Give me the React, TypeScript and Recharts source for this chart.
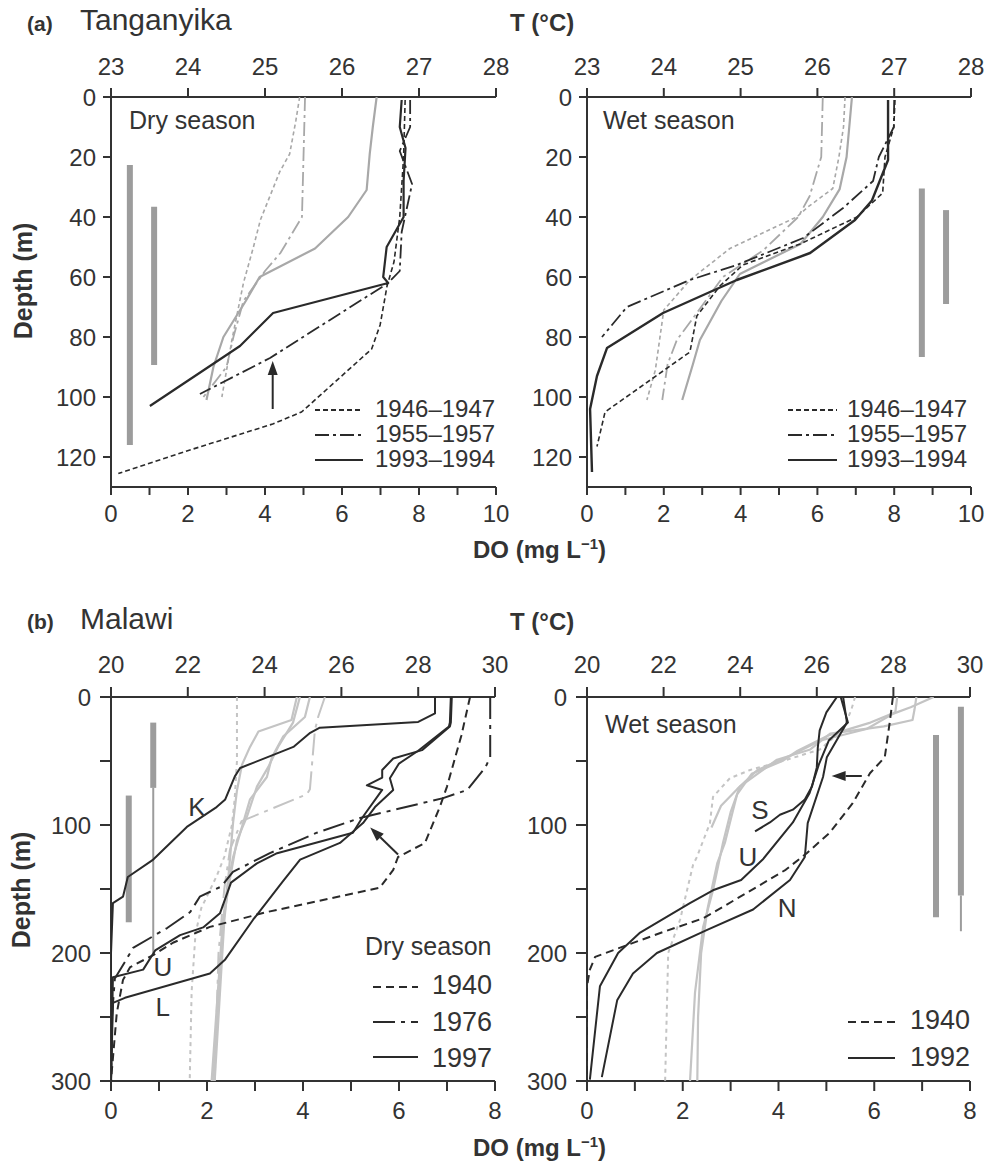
import React from 'react';
import { ScatterChart, Scatter, XAxis, YAxis } from 'recharts';

type P = [number, number]; // [value, depth]

// ---------- (a) Tanganyika, dry season ----------
const tanDryT1946: P[] = [[25.45, 0], [25.4, 8], [25.32, 19], [25.19, 25], [24.94, 41], [24.85, 50], [24.72, 62], [24.57, 81], [24.44, 100]];
const tanDryT1955: P[] = [[25.52, 0], [25.5, 20], [25.48, 40], [25.2, 52], [25.0, 58], [24.72, 68], [24.59, 80], [24.5, 90], [24.2, 100]];
const tanDryT1993: P[] = [[26.45, 0], [26.4, 10], [26.36, 19], [26.32, 31], [26.08, 40], [25.65, 50.5], [24.93, 60], [24.75, 68], [24.46, 80], [24.33, 90], [24.24, 101]];
const tanDryDO1946: P[] = [[7.64, 1], [7.6, 20], [7.5, 40], [7.35, 55], [7.17, 63], [6.99, 76], [6.77, 84], [4.95, 105], [4.2, 109], [1.97, 118], [0.19, 125.5]];
const tanDryDO1955: P[] = [[7.77, 1], [7.77, 10], [7.5, 18], [7.82, 29], [7.55, 45], [7.5, 58], [7.2, 62], [4.13, 87], [2.31, 99]];
const tanDryDO1993: P[] = [[7.55, 1], [7.5, 10], [7.65, 17], [7.6, 28], [7.6, 40], [7.16, 50], [7.07, 60], [7.2, 62], [4.21, 72], [3.35, 83], [1.01, 103]];
const tanDryBar1: P[] = [[0.49, 22.7], [0.49, 116]];
const tanDryBar2: P[] = [[1.12, 36.6], [1.12, 89.3]];
const tanDryArrow: P[] = [[4.2, 104], [4.2, 88]];

// ---------- (a) Tanganyika, wet season ----------
const tanWetT1946: P[] = [[26.36, 0], [26.34, 10], [26.28, 20], [26.2, 30.5], [25.88, 36.6], [25.73, 40], [24.86, 50.5], [24.34, 61], [24.0, 71], [23.89, 91], [23.78, 101]];
const tanWetT1955: P[] = [[26.07, 0], [26.05, 20], [25.9, 33], [25.75, 40], [25.3, 51], [24.77, 60], [24.43, 72], [24.17, 81], [24.05, 89], [23.98, 101]];
const tanWetT1993: P[] = [[26.45, 0], [26.38, 20], [26.29, 30.7], [26.07, 40], [25.78, 49], [24.99, 59], [24.75, 68], [24.47, 81], [24.38, 89], [24.24, 101]];
const tanWetDO1946: P[] = [[8.02, 1], [7.99, 10], [7.76, 20], [7.7, 32], [7.03, 40], [5.55, 49], [4.06, 56], [3.46, 63], [2.86, 73], [2.68, 85], [0.47, 105], [0.26, 116.5]];
const tanWetDO1955: P[] = [[8.0, 1], [7.99, 10], [7.6, 20], [7.45, 28], [6.67, 37], [5.63, 47], [3.9, 56], [2.68, 61], [1.64, 66.7], [1.04, 70], [0.39, 80]];
const tanWetDO1993: P[] = [[7.84, 1], [7.84, 21], [7.42, 34.5], [6.98, 41], [5.81, 52], [3.9, 61], [1.98, 72], [0.52, 83.7], [0.26, 93], [0.08, 104], [0.13, 125]];
const tanWetBar1: P[] = [[8.72, 30.5], [8.72, 86.7]];
const tanWetBar2: P[] = [[9.35, 37.7], [9.35, 69]];

// ---------- (b) Malawi, dry season ----------
const malDryT1940: P[] = [[23.28, 0], [23.28, 50], [23.22, 80], [23.15, 100], [22.95, 125], [22.75, 140], [22.35, 165], [22.2, 185], [22.1, 230], [22.05, 300]];
const malDryT1976: P[] = [[25.57, 0], [25.4, 15], [25.31, 26], [25.18, 72], [25.1, 76], [23.4, 97], [23.1, 119], [22.95, 150], [22.8, 200], [22.7, 300]];
const malDryT1997a: P[] = [[24.84, 0], [24.7, 18], [23.84, 27], [23.62, 39], [23.41, 53], [23.28, 73], [23.18, 98], [23.05, 143], [22.92, 174], [22.79, 239], [22.66, 300]];
const malDryT1997b: P[] = [[25.18, 0], [25.05, 15.6], [24.48, 31], [24.19, 47], [24.06, 62.5], [23.62, 80], [23.44, 98.5], [23.18, 125], [23.05, 145], [22.95, 175], [22.82, 240], [22.7, 300]];
const malDryT1997c: P[] = [[24.92, 0], [24.74, 20], [24.35, 39], [24.09, 55], [23.8, 70], [23.54, 93.5], [23.28, 112], [23.08, 145], [22.9, 180], [22.76, 240], [22.62, 300]];
const malDryDO1940: P[] = [[7.48, 0], [7.3, 30], [7.0, 70], [6.85, 86], [6.54, 114], [5.98, 125], [5.88, 135], [5.6, 149], [3.25, 168], [2.06, 179.6], [1.29, 192], [0.88, 201.6], [0.4, 211], [0.25, 221], [0.12, 247], [0.02, 291], [0, 300]];
const malDryDO1976: P[] = [[7.9, 0], [7.9, 47], [7.8, 55], [7.42, 72.6], [6.92, 79], [5.19, 94.5], [4.29, 106], [3.31, 122], [2.54, 136.6], [2.3, 148], [1.85, 156], [1.65, 168], [1.17, 180.5], [0.46, 196], [0.29, 207], [0.08, 220], [0.02, 250], [0, 300]];
const malDryDO1997K: P[] = [[6.75, 0], [6.75, 12.8], [6.4, 19.5], [4.35, 24], [4.15, 28], [3.8, 39], [3.46, 44], [2.69, 55.5], [2.58, 62], [2.38, 80], [2.2, 86], [1.58, 101.5], [0.88, 127], [0.35, 140.6], [0.25, 156], [0.04, 161], [0, 200], [0, 300]];
const malDryDO1997U: P[] = [[7.1, 0], [7.08, 20], [7.06, 23], [6.48, 41.5], [5.88, 48], [5.65, 57], [5.65, 63], [5.33, 69], [5.65, 72.6], [5.23, 94.5], [5.04, 106], [3.46, 122], [3.04, 130], [2.5, 145], [2.27, 169], [1.92, 180], [1.44, 186], [0.92, 198], [0.67, 213], [0.04, 219], [0, 300]];
const malDryDO1997L: P[] = [[7.08, 0], [7.06, 20], [7.04, 23], [6.4, 42], [6.0, 52], [5.81, 63.5], [5.88, 72.6], [5.5, 86], [5.25, 98.5], [4.77, 114], [3.94, 127], [3.58, 144], [3.25, 160], [2.96, 174], [2.38, 205], [2.06, 216], [0.29, 235], [0.04, 239], [0, 300]];
const malDryBar1: P[] = [[0.37, 77], [0.37, 176]];
const malDryBar2: P[] = [[0.88, 20], [0.88, 71]];
const malDryBar2Thin: P[] = [[0.88, 71], [0.88, 200]];
const malDryArrow: P[] = [[5.98, 123], [5.4, 102]];
const malDryLabels: { text: string; at: P }[] = [
  { text: 'K', at: [1.79, 86] },
  { text: 'U', at: [1.08, 211] },
  { text: 'L', at: [1.08, 242] },
];

// ---------- (b) Malawi, wet season ----------
const malWetT1940: P[] = [[27.0, 0], [26.9, 10], [26.7, 25], [26.08, 41], [25.22, 49], [24.26, 57], [23.73, 63.5], [23.29, 78], [23.21, 98.5], [22.87, 125], [22.77, 131], [22.43, 174], [22.12, 200], [22.04, 300]];
const malWetT1992a: P[] = [[29.05, 0], [28.45, 8], [28.0, 13], [27.3, 25], [26.1, 34], [25.3, 46], [24.45, 57], [23.92, 72], [23.5, 85], [23.25, 102]];
const malWetT1992b: P[] = [[28.6, 0], [28.55, 10], [28.5, 18], [27.75, 23], [26.35, 28.6], [25.83, 41], [24.96, 49], [23.99, 70], [23.75, 90], [23.55, 114], [23.29, 151], [23.03, 180], [22.82, 231], [22.69, 300]];
const malWetT1992c: P[] = [[28.1, 0], [28.05, 12], [27.4, 20], [26.3, 30], [25.5, 42], [25.1, 50], [24.3, 60], [23.92, 76], [23.8, 90], [23.6, 114], [23.4, 130], [23.15, 165], [22.98, 200], [22.9, 250], [22.88, 300]];
const malWetDO1940: P[] = [[6.39, 0], [6.33, 18], [6.22, 47], [5.91, 59.6], [5.55, 83], [5.07, 106], [4.59, 122], [4.15, 135], [3.34, 153], [2.42, 173], [1.59, 183.6], [0.75, 195], [0.17, 203], [0.06, 213], [0, 226], [0, 300]];
const malWetDO1992S: P[] = [[5.22, 0], [5.0, 12], [4.86, 26], [4.82, 40], [4.8, 55], [4.7, 70], [4.55, 80], [4.3, 88], [4.03, 92], [3.82, 98], [3.51, 105]];
const malWetDO1992U: P[] = [[5.3, 0], [5.45, 20], [5.05, 34], [4.85, 52], [4.65, 75], [4.3, 98], [3.67, 127], [3.22, 143], [2.63, 151], [2.15, 161], [1.11, 184], [0.65, 200], [0.27, 226], [0.06, 299]];
const malWetDO1992N: P[] = [[5.35, 0], [5.43, 20], [5.01, 47], [4.93, 62.5], [4.61, 98.5], [4.55, 125], [4.24, 143], [3.47, 166], [2.51, 182], [1.46, 200], [0.96, 216], [0.63, 237], [0.31, 297]];
const malWetBar1: P[] = [[7.29, 29.7], [7.29, 172]];
const malWetBar2: P[] = [[7.81, 7.6], [7.81, 155]];
const malWetBar2Thin: P[] = [[7.81, 155], [7.81, 183]];
const malWetArrow: P[] = [[5.74, 61.7], [5.11, 61.7]];
const malWetLabels: { text: string; at: P }[] = [
  { text: 'S', at: [3.61, 88] },
  { text: 'U', at: [3.36, 125] },
  { text: 'N', at: [4.18, 165] },
];

// ---------- axis ticks ----------
const tanDoTicks = [0, 1, 2, 3, 4, 5, 6, 7, 8, 9, 10];
const tanDoLabels = [0, 2, 4, 6, 8, 10];
const tanTTicks = [23, 24, 25, 26, 27, 28];
const tanDepthTicks = [0, 20, 40, 60, 80, 100, 120];
const malDoTicks = [0, 1, 2, 3, 4, 5, 6, 7, 8];
const malDoLabels = [0, 2, 4, 6, 8];
const malTTicks = [20, 22, 24, 26, 28, 30];
const malDepthTicks = [0, 50, 100, 150, 200, 250, 300];
const malDepthLabels = [0, 100, 200, 300];

// ---------- styles ----------
const FONT = '"Liberation Sans", Arial, Helvetica, sans-serif';
const INK = '#333333';
const DARK = '#2a2a2a';
const GRAY_A = '#a8a8a8';
const GRAY_B = '#c4c4c4';
const BAR = '#9c9c9c';
const TICK_FS = 24;

const toPts = (arr: P[]) => arr.map(([x, d]) => ({ x, d }));
const noShape = () => <g />;

type LineDef = { data: P[]; axis: 'do' | 't'; color: string; width: number; dash?: string };

const arrowLine = (color: string) => (p: any) => {
  const pts = p.points || [];
  if (pts.length < 2) return <g />;
  const a = pts[0];
  const b = pts[pts.length - 1];
  const ang = Math.atan2(b.y - a.y, b.x - a.x);
  const L = 14;
  const W = 5;
  const bx = b.x - L * Math.cos(ang);
  const by = b.y - L * Math.sin(ang);
  const px = -Math.sin(ang) * W;
  const py = Math.cos(ang) * W;
  return (
    <g>
      <line x1={a.x} y1={a.y} x2={bx} y2={by} stroke={color} strokeWidth={2} />
      <polygon points={`${b.x},${b.y} ${bx + px},${by + py} ${bx - px},${by - py}`} fill={color} />
    </g>
  );
};

const textShape = (label: string) => (p: any) => (
  <text x={p.cx} y={p.cy} textAnchor="middle" dominantBaseline="central" fontSize={26} fontFamily={FONT} fill={INK}>
    {label}
  </text>
);

const mkTick = (kind: 'bottom' | 'top' | 'left', labels: number[]) => (p: any) => {
  const v = p.payload && p.payload.value;
  if (!labels.includes(v)) return <g />;
  const dy = kind === 'bottom' ? '0.72em' : kind === 'top' ? '0' : '0.36em';
  const anchor = kind === 'left' ? 'end' : 'middle';
  return (
    <text x={p.x} y={p.y} dy={dy} textAnchor={anchor} fontSize={TICK_FS} fontFamily={FONT} fill={INK}>
      {String(v)}
    </text>
  );
};

type PanelProps = {
  left: number;
  top: number;
  w: number;
  h: number;
  doMax: number;
  doTicks: number[];
  doLabels: number[];
  tMin: number;
  tMax: number;
  tTicks: number[];
  dMax: number;
  dTicks: number[];
  dLabels: number[];
  lines: LineDef[];
  arrows: P[][];
  labels: { text: string; at: P }[];
  ts: { left: [number, number]; bottom: [number, number]; top: [number, number] };
};

function Panel(props: PanelProps) {
  const { left, top, w, h, doMax, doTicks, doLabels, tMin, tMax, tTicks, dMax, dTicks, dLabels, lines, arrows, labels, ts } = props;
  const YW = 70;
  const TH = 50;
  const BH = 50;
  const RM = 20;
  const axisStroke = { stroke: INK, strokeWidth: 2 };
  return (
    <div style={{ position: 'absolute', left: left - YW, top: top - TH }}>
      <ScatterChart width={YW + w + RM} height={TH + h + BH} margin={{ top: 0, right: RM, bottom: 0, left: 0 }}>
        <XAxis
          xAxisId="do"
          type="number"
          dataKey="x"
          orientation="bottom"
          height={BH}
          domain={[0, doMax]}
          ticks={doTicks}
          interval={0}
          allowDataOverflow
          tick={mkTick('bottom', doLabels)}
          tickLine={axisStroke}
          axisLine={axisStroke}
          tickSize={ts.bottom[0]}
          tickMargin={ts.bottom[1]}
        />
        <XAxis
          xAxisId="t"
          type="number"
          dataKey="x"
          orientation="top"
          height={TH}
          domain={[tMin, tMax]}
          ticks={tTicks}
          interval={0}
          allowDataOverflow
          tick={mkTick('top', tTicks)}
          tickLine={axisStroke}
          axisLine={axisStroke}
          tickSize={ts.top[0]}
          tickMargin={ts.top[1]}
        />
        <YAxis
          type="number"
          dataKey="d"
          reversed
          width={YW}
          domain={[0, dMax]}
          ticks={dTicks}
          interval={0}
          allowDataOverflow
          tick={mkTick('left', dLabels)}
          tickLine={axisStroke}
          axisLine={axisStroke}
          tickSize={ts.left[0]}
          tickMargin={ts.left[1]}
        />
        {lines.map((s, i) => (
          <Scatter
            key={`l${i}`}
            xAxisId={s.axis}
            data={toPts(s.data)}
            fill="none"
            line={{ stroke: s.color, strokeWidth: s.width, strokeDasharray: s.dash, strokeLinejoin: 'round' }}
            lineType="joint"
            shape={noShape}
            isAnimationActive={false}
          />
        ))}
        {arrows.map((a, i) => (
          <Scatter
            key={`a${i}`}
            xAxisId="do"
            data={toPts(a)}
            fill="none"
            line={arrowLine(DARK)}
            lineType="joint"
            shape={noShape}
            isAnimationActive={false}
          />
        ))}
        {labels.map((l, i) => (
          <Scatter
            key={`t${i}`}
            xAxisId="do"
            data={toPts([l.at])}
            fill="none"
            shape={textShape(l.text)}
            isAnimationActive={false}
          />
        ))}
      </ScatterChart>
    </div>
  );
}

function Txt({ x, y, size, bold, anchor, children }: { x: number; y: number; size: number; bold?: boolean; anchor?: 'start' | 'middle' | 'end'; children: React.ReactNode }) {
  const shift = anchor === 'middle' ? '-50%' : anchor === 'end' ? '-100%' : '0';
  return (
    <div
      style={{
        position: 'absolute',
        left: x,
        top: y - 0.846 * size,
        fontSize: size,
        lineHeight: `${size}px`,
        fontWeight: bold ? 700 : 400,
        fontFamily: FONT,
        color: INK,
        whiteSpace: 'nowrap',
        transform: `translateX(${shift})`,
      }}
    >
      {children}
    </div>
  );
}

function LegRow({ x1, x2, y, dash, tx, baseline, size, label }: { x1: number; x2: number; y: number; dash?: string; tx: number; baseline: number; size: number; label: string }) {
  return (
    <>
      <svg style={{ position: 'absolute', left: x1, top: y - 3 }} width={x2 - x1} height={6}>
        <line x1={0} y1={3} x2={x2 - x1} y2={3} stroke={DARK} strokeWidth={2} strokeDasharray={dash} />
      </svg>
      <Txt x={tx} y={baseline} size={size}>
        {label}
      </Txt>
    </>
  );
}

function Rot({ cx, cy, size, children }: { cx: number; cy: number; size: number; children: React.ReactNode }) {
  return (
    <div
      style={{
        position: 'absolute',
        left: cx,
        top: cy,
        fontSize: size,
        lineHeight: `${size}px`,
        fontWeight: 700,
        fontFamily: FONT,
        color: INK,
        whiteSpace: 'nowrap',
        transform: 'translate(-50%, -50%) rotate(-90deg)',
      }}
    >
      {children}
    </div>
  );
}

const DoTitle = () => (
  <>
    DO (mg L<span style={{ fontSize: '0.62em', position: 'relative', top: '-0.6em' }}>−1</span>)
  </>
);

const DASH_A = '5 3';
const DASHDOT_A = '14 4 3 4';
const DASH_B = '8 5';
const DASHDOT_B = '22 6 4 6';
const DOT_B = '4 4';

export default function App() {
  const tsA = { left: [8, 7] as [number, number], bottom: [8, 10] as [number, number], top: [9, 13] as [number, number] };
  const tsB = { left: [11, 9] as [number, number], bottom: [10, 11] as [number, number], top: [10, 14] as [number, number] };

  const barLines = (bars: P[][], width: number): LineDef[] => bars.map((b) => ({ data: b, axis: 'do', color: BAR, width }));

  return (
    <div style={{ position: 'absolute', left: 0, top: 0, width: 987, height: 1163, background: '#fff', overflow: 'hidden' }}>
      {/* (a) Tanganyika dry */}
      <Panel
        left={111}
        top={97}
        w={385}
        h={390}
        doMax={10}
        doTicks={tanDoTicks}
        doLabels={tanDoLabels}
        tMin={23}
        tMax={28}
        tTicks={tanTTicks}
        dMax={130}
        dTicks={tanDepthTicks}
        dLabels={tanDepthTicks}
        ts={tsA}
        lines={[
          ...barLines([tanDryBar1, tanDryBar2], 6),
          { data: tanDryT1946, axis: 't', color: GRAY_A, width: 1.6, dash: '4 3' },
          { data: tanDryT1955, axis: 't', color: GRAY_A, width: 1.8, dash: DASHDOT_A },
          { data: tanDryT1993, axis: 't', color: GRAY_A, width: 2.2 },
          { data: tanDryDO1946, axis: 'do', color: DARK, width: 1.6, dash: DASH_A },
          { data: tanDryDO1955, axis: 'do', color: DARK, width: 1.8, dash: DASHDOT_A },
          { data: tanDryDO1993, axis: 'do', color: DARK, width: 2.2 },
        ]}
        arrows={[tanDryArrow]}
        labels={[]}
      />
      {/* (a) Tanganyika wet */}
      <Panel
        left={587}
        top={97}
        w={384}
        h={390}
        doMax={10}
        doTicks={tanDoTicks}
        doLabels={tanDoLabels}
        tMin={23}
        tMax={28}
        tTicks={tanTTicks}
        dMax={130}
        dTicks={tanDepthTicks}
        dLabels={tanDepthTicks}
        ts={tsA}
        lines={[
          ...barLines([tanWetBar1, tanWetBar2], 6),
          { data: tanWetT1946, axis: 't', color: GRAY_A, width: 1.6, dash: '4 3' },
          { data: tanWetT1955, axis: 't', color: GRAY_A, width: 1.8, dash: DASHDOT_A },
          { data: tanWetT1993, axis: 't', color: GRAY_A, width: 2.2 },
          { data: tanWetDO1946, axis: 'do', color: DARK, width: 1.6, dash: DASH_A },
          { data: tanWetDO1955, axis: 'do', color: DARK, width: 1.8, dash: DASHDOT_A },
          { data: tanWetDO1993, axis: 'do', color: DARK, width: 2.4 },
        ]}
        arrows={[]}
        labels={[]}
      />
      {/* (b) Malawi dry */}
      <Panel
        left={111}
        top={697}
        w={384}
        h={384}
        doMax={8}
        doTicks={malDoTicks}
        doLabels={malDoLabels}
        tMin={20}
        tMax={30}
        tTicks={malTTicks}
        dMax={300}
        dTicks={malDepthTicks}
        dLabels={malDepthLabels}
        ts={tsB}
        lines={[
          ...barLines([malDryBar1, malDryBar2], 6),
          ...barLines([malDryBar2Thin], 2),
          { data: malDryT1940, axis: 't', color: GRAY_B, width: 2, dash: DOT_B },
          { data: malDryT1976, axis: 't', color: GRAY_B, width: 2, dash: DASHDOT_B },
          { data: malDryT1997a, axis: 't', color: GRAY_B, width: 2.2 },
          { data: malDryT1997b, axis: 't', color: GRAY_B, width: 2.2 },
          { data: malDryT1997c, axis: 't', color: GRAY_B, width: 2.2 },
          { data: malDryDO1940, axis: 'do', color: DARK, width: 2, dash: DASH_B },
          { data: malDryDO1976, axis: 'do', color: DARK, width: 2, dash: DASHDOT_B },
          { data: malDryDO1997K, axis: 'do', color: DARK, width: 2 },
          { data: malDryDO1997U, axis: 'do', color: DARK, width: 2 },
          { data: malDryDO1997L, axis: 'do', color: DARK, width: 2 },
        ]}
        arrows={[malDryArrow]}
        labels={malDryLabels}
      />
      {/* (b) Malawi wet */}
      <Panel
        left={587}
        top={697}
        w={383}
        h={384}
        doMax={8}
        doTicks={malDoTicks}
        doLabels={malDoLabels}
        tMin={20}
        tMax={30}
        tTicks={malTTicks}
        dMax={300}
        dTicks={malDepthTicks}
        dLabels={malDepthLabels}
        ts={tsB}
        lines={[
          ...barLines([malWetBar1, malWetBar2], 6),
          ...barLines([malWetBar2Thin], 2),
          { data: malWetT1940, axis: 't', color: GRAY_B, width: 2, dash: DOT_B },
          { data: malWetT1992a, axis: 't', color: GRAY_B, width: 2.2 },
          { data: malWetT1992b, axis: 't', color: GRAY_B, width: 2.2 },
          { data: malWetT1992c, axis: 't', color: GRAY_B, width: 2.2 },
          { data: malWetDO1940, axis: 'do', color: DARK, width: 2, dash: DASH_B },
          { data: malWetDO1992S, axis: 'do', color: DARK, width: 2 },
          { data: malWetDO1992U, axis: 'do', color: DARK, width: 2 },
          { data: malWetDO1992N, axis: 'do', color: DARK, width: 2 },
        ]}
        arrows={[malWetArrow]}
        labels={malWetLabels}
      />

      {/* titles (a) */}
      <Txt x={27} y={31} size={21} bold>(a)</Txt>
      <Txt x={80} y={30} size={30}>Tanganyika</Txt>
      <Txt x={510} y={31} size={24} bold>T (°C)</Txt>
      <Txt x={129} y={129} size={25}>Dry season</Txt>
      <Txt x={603} y={129} size={25}>Wet season</Txt>
      <Txt x={473} y={558} size={24} bold><DoTitle /></Txt>
      <Rot cx={23} cy={281} size={25}>Depth (m)</Rot>

      <LegRow x1={315} x2={363} y={410} dash={DASH_A} tx={375} baseline={417} size={24} label="1946–1947" />
      <LegRow x1={315} x2={363} y={435} dash={DASHDOT_A} tx={375} baseline={442} size={24} label="1955–1957" />
      <LegRow x1={315} x2={363} y={460} tx={375} baseline={467} size={24} label="1993–1994" />
      <LegRow x1={788} x2={837} y={410} dash={DASH_A} tx={847} baseline={417} size={24} label="1946–1947" />
      <LegRow x1={788} x2={837} y={435} dash={DASHDOT_A} tx={847} baseline={442} size={24} label="1955–1957" />
      <LegRow x1={788} x2={837} y={460} tx={847} baseline={467} size={24} label="1993–1994" />

      {/* titles (b) */}
      <Txt x={27} y={629} size={21} bold>(b)</Txt>
      <Txt x={80} y={629} size={30}>Malawi</Txt>
      <Txt x={510} y={630} size={24} bold>T (°C)</Txt>
      <Txt x={605} y={733} size={25}>Wet season</Txt>
      <Txt x={365} y={955} size={25}>Dry season</Txt>
      <Txt x={473} y={1156} size={24} bold><DoTitle /></Txt>
      <Rot cx={21} cy={890} size={25}>Depth (m)</Rot>

      <LegRow x1={373} x2={418} y={987} dash={DASH_B} tx={432} baseline={995} size={27} label="1940" />
      <LegRow x1={373} x2={418} y={1022} dash={DASHDOT_B} tx={432} baseline={1032} size={27} label="1976" />
      <LegRow x1={373} x2={418} y={1057} tx={432} baseline={1068} size={27} label="1997" />
      <LegRow x1={848} x2={895} y={1022} dash={DASH_B} tx={910} baseline={1030} size={27} label="1940" />
      <LegRow x1={848} x2={895} y={1058} tx={910} baseline={1067} size={27} label="1992" />
    </div>
  );
}
